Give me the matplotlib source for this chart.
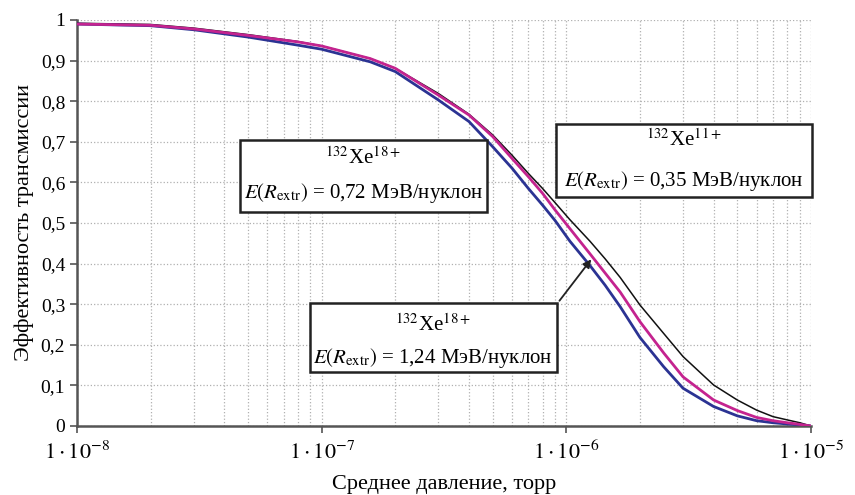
import numpy as np
import matplotlib.pyplot as plt
from matplotlib.patches import Rectangle
from matplotlib.ticker import FixedLocator, LogLocator, NullFormatter

plt.rcParams['font.family'] = ['Liberation Serif', 'DejaVu Serif']
plt.rcParams['mathtext.fontset'] = 'stix'

# pressure, torr (shared by all three curves)
pressure = [1e-8, 2e-8, 3e-8, 5e-8, 8e-8, 1e-7, 1.58e-7, 2e-7, 3e-7, 4e-7, 5e-7,
            6e-7, 7e-7, 8e-7, 9e-7, 1.035e-6, 1.25e-6, 1.44e-6, 1.66e-6, 2e-6,
            2.5e-6, 3e-6, 4e-6, 5e-6, 6e-6, 7e-6, 8e-6, 9e-6, 1e-5]

# Xe 11+, E = 0,35 MeV/nucleon (black)
t_black = [0.992, 0.989, 0.980, 0.964, 0.947, 0.936, 0.905, 0.881, 0.819, 0.768, 0.717,
           0.667, 0.622, 0.585, 0.550, 0.508, 0.455, 0.412, 0.366, 0.298,
           0.228, 0.171, 0.101, 0.064, 0.039, 0.023, 0.015, 0.008, 0.0]

# Xe 18+, E = 0,72 MeV/nucleon (magenta)
t_mag = [0.990, 0.987, 0.978, 0.962, 0.946, 0.936, 0.905, 0.881, 0.815, 0.766, 0.713,
         0.659, 0.614, 0.573, 0.532, 0.486, 0.424, 0.377, 0.330, 0.257,
         0.180, 0.121, 0.064, 0.038, 0.021, 0.013, 0.008, 0.004, 0.0]

# Xe 18+, E = 1,24 MeV/nucleon (blue)
t_blue = [0.990, 0.986, 0.976, 0.958, 0.938, 0.928, 0.897, 0.873, 0.803, 0.750, 0.688,
          0.635, 0.585, 0.544, 0.506, 0.455, 0.395, 0.347, 0.294, 0.218,
          0.146, 0.093, 0.048, 0.025, 0.013, 0.008, 0.005, 0.003, 0.0]

y_ticks = [0, 0.1, 0.2, 0.3, 0.4, 0.5, 0.6, 0.7, 0.8, 0.9, 1.0]
y_labels = ['0', '0,1', '0,2', '0,3', '0,4', '0,5', '0,6', '0,7', '0,8', '0,9', '1']
x_ticks = [1e-8, 1e-7, 1e-6, 1e-5]
x_labels = [r'$1\cdot10^{-8}$', r'$1\cdot10^{-7}$', r'$1\cdot10^{-6}$', r'$1\cdot10^{-5}$']

fig = plt.figure(figsize=(8.55, 4.95), dpi=100)
ax = fig.add_axes([0.090, 0.1394, 0.8585, 0.8202])

ax.plot(pressure, t_black, color='#111111', lw=1.1, zorder=3)
ax.plot(pressure, t_blue, color='#2b3393', lw=2.0, zorder=4)
ax.plot(pressure, t_mag, color='#c4238f', lw=2.0, zorder=5)

ax.set_xscale('log')
ax.set_xlim(1e-8, 1e-5)
ax.set_ylim(0, 1)
ax.xaxis.set_major_locator(FixedLocator(x_ticks))
ax.set_xticklabels(x_labels, fontsize=16)
ax.xaxis.set_minor_locator(LogLocator(base=10, subs=np.arange(2, 10)))
ax.xaxis.set_minor_formatter(NullFormatter())
ax.set_yticks(y_ticks)
ax.set_yticklabels(y_labels, fontsize=14)

ax.grid(True, which='both', axis='x', color='#b0b0b0', ls=':', lw=0.9)
ax.grid(True, which='major', axis='y', color='#b0b0b0', ls=':', lw=0.9)
ax.tick_params(axis='x', which='minor', length=0)
ax.tick_params(axis='both', which='major', length=5, width=1.2, color='#555555', direction='out')
ax.tick_params(axis='x', pad=6)

for s in ['top', 'right']:
    ax.spines[s].set_visible(False)
for s in ['left', 'bottom']:
    ax.spines[s].set_color('#555555')
    ax.spines[s].set_linewidth(1.8)

ax.set_xlabel('Среднее давление, торр', fontsize=16, va='center')
ax.xaxis.set_label_coords(0.5, -0.143)
ax.set_ylabel('Эффективность трансмиссии', fontsize=16)
ax.yaxis.set_label_coords(-0.058, 0.502)

# annotation boxes
boxes = [
    ((0.222, 0.527), 0.3366, 0.1774, 0.390, 0.660, 0.574, '18+', '0,72'),
    ((0.6526, 0.564), 0.3488, 0.180, 0.827, 0.704, 0.604, '11+', '0,35'),
    ((0.3174, 0.133), 0.3366, 0.170, 0.485, 0.249, 0.168, '18+', '1,24'),
]
for (xy, w, h, cx, y1, y2, q, e) in boxes:
    ax.add_patch(Rectangle(xy, w, h, transform=ax.transAxes, facecolor='white',
                           edgecolor='#222222', lw=1.8, zorder=6, clip_on=False))
    ax.text(cx, y1, r'$^{132}$Xe$^{%s}$' % q, transform=ax.transAxes, ha='center',
            va='center', fontsize=15, zorder=7)
    ax.text(cx, y2, r'$E(R_{\mathrm{extr}})$ = %s МэВ/нуклон' % e, transform=ax.transAxes,
            ha='center', va='center', fontsize=15, zorder=7)

ax.annotate('', xy=(0.703, 0.416), xytext=(0.655, 0.303), xycoords='axes fraction',
            arrowprops=dict(arrowstyle='-|>', color='#222222', lw=1.3, mutation_scale=12),
            zorder=8)

fig.savefig('out.png', dpi=100)
